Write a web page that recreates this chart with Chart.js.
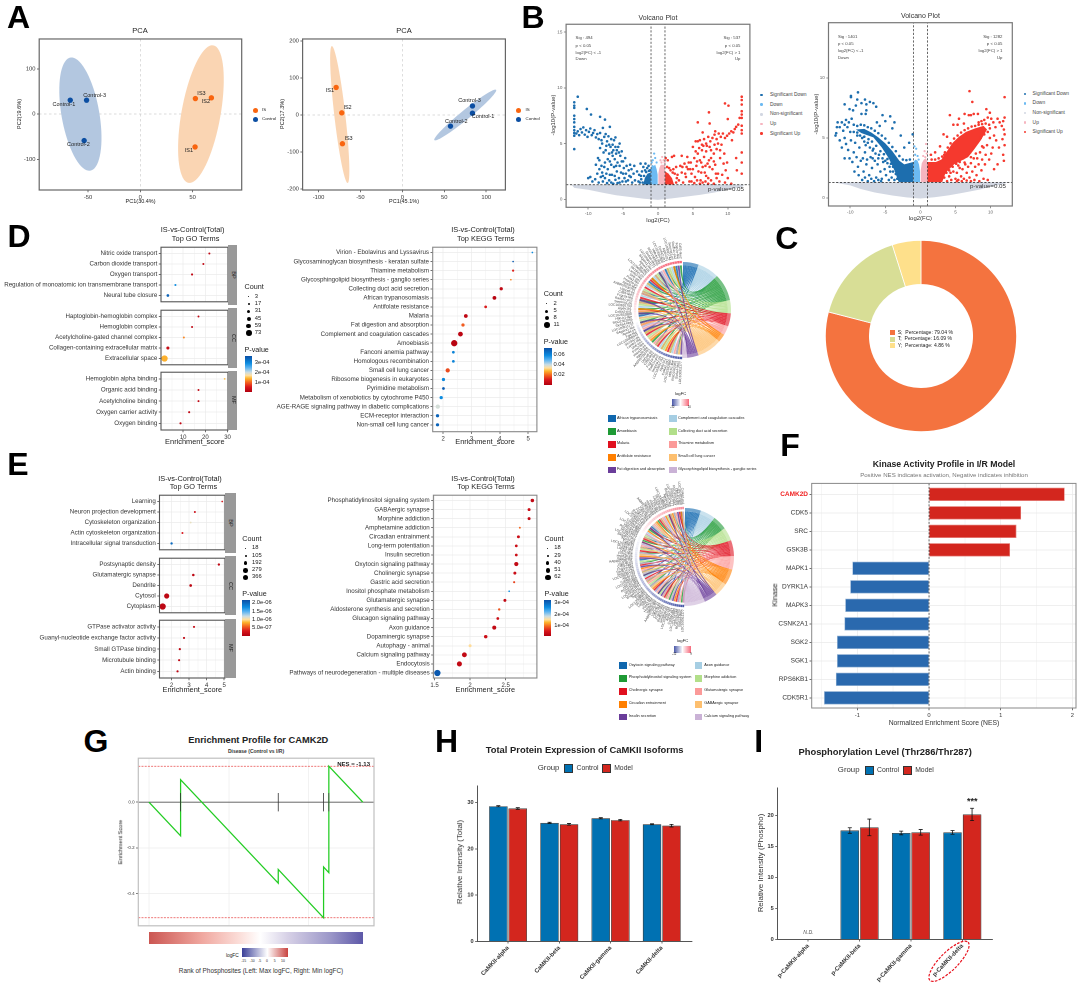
<!DOCTYPE html>
<html>
<head>
<meta charset="utf-8">
<script src="https://cdn.jsdelivr.net/npm/chart.js@4/dist/chart.umd.min.js"></script>
<style>
html,body{margin:0;padding:0;background:#fff}
#page{position:absolute;left:0;top:0;width:1080px;height:987px;overflow:hidden;background:#fff;font-family:"Liberation Sans",Arial,sans-serif}
#page canvas{position:absolute}
.t{position:absolute;white-space:pre;line-height:1;color:#222}
.b{position:absolute}
</style>
</head>
<body>
<div id="page"></div>
<script>
// ---- PCA
const pcaSamples = ['IS1', 'IS2', 'IS3', 'Control-1', 'Control-2', 'Control-3'];
const pca1X = [52.4, 68, 52.7, -67, -53.7, -51.4];
const pca1Y = [-72.5, 36, 34.4, 30.8, -58.6, 30.8];
const pca2X = [-79, -72.3, -71.5, 83.6, 57.4, 83.6];
const pca2Y = [74, 5.4, -78, 4.5, -30.5, 24];
// centre, then two conjugate half axes, in data units
const pca1Ellipses = [[58, 0, 11.8, 152, 18.4, -7.3], [-57.3, 0, -7.6, 125, 18.7, -6]];
const pca2Ellipses = [[-74.7, 0.9, -9.3, 185, 6.7, -1.6], [75, -0.4, 36.8, 68, 3.6, -9.5]];

// ---- Volcano 1
const v1Grey = [[-12.4,1.3],[-12,1.02],[-10,.85],[-8,.6],[-6,.36],[-4,.2],[-2,.05],[0,-.05],[2,.08],[4,.24],[6,.4],[8,.6],[10,.86],[12,1.08],[12.4,1.3]];
const v1LightDown = [[-1,1.32],[-1,2.9],[-.8,3.1],[-.6,3],[-.4,3.1],[-.2,2.7],[-.05,2.2],[-.05,1.32]];
const v1LightUp = [[.05,1.32],[.05,2.3],[.2,2.8],[.4,3.1],[.7,3.1],[1,3.1],[1,1.32]];
const v1DenseDown = [[-2.1,1.32],[-1.9,1.9],[-1.5,2.3],[-1.02,2.4],[-1.02,1.32]];
const v1DenseUp = [[1.02,1.32],[1.02,2.5],[1.5,2.3],[2,1.9],[2.3,1.32]];
const v1LightPts = [[-.55,4.1],[-.4,3.7],[-.75,3.5],[-.2,3.3],[-.9,3.3]];
const v1PinkPts = [[.6,3.8],[.8,3.5],[.35,3.5],[.95,3.3],[.5,3.3]];
const v1Down = [[-12,4.5],[-12,5.7],[-12,5.95],[-12,6.2],[-12,6.5],[-12,6.9],[-12,7.2],[-12,7.5],[-12,8.2],[-12,8.4],[-12,8.7],[-11.5,9.2],[-10.2,8.1],[-9.6,7.6],[-8.3,7.4],[-7.6,7.15],
[-11.7,5.9],[-11.5,6.1],[-11.3,5.75],[-11.1,6.3],[-10.9,6],[-10.7,6.45],[-10.5,5.8],[-10.3,6.2],[-10.1,5.6],[-9.9,6.05],[-9.7,6.35],[-9.5,5.75],[-9.3,5.95],[-9.1,6.2],[-8.9,5.55],[-8.7,5.85],[-8.5,5.4],[-8.3,5.95],[-8.1,5.3],[-7.9,6.4],[-7.7,5.6],[-7.5,5.85],[-7.3,5.2],[-7.1,5.65],[-6.9,6.5],[-6.7,5.4],[-6.5,4.9],[-6.3,5.3],[-6.1,5.55],[-5.9,4.4],
[-8.9,3.1],[-8.6,3.7],[-8.3,4.6],[-8,2.4],[-7.8,4.2],[-7.6,3.3],[-7.4,4.8],[-7.2,2.7],[-7,4.1],[-6.9,3.4],[-6.8,4.7],[-6.6,2.2],[-6.5,3.9],[-6.4,4.4],[-6.3,2.9],[-6.2,3.6],[-6,4.1],[-5.9,2.5],[-5.8,3.3],[-5.7,4.7],[-5.6,1.9],[-5.5,3],[-5.4,3.9],[-5.3,2.4],[-5.2,4.3],[-5.1,1.6],[-5,3.4],[-4.9,2.8],[-4.8,1.9],[-4.7,3.7],[-4.6,2.3],[-4.5,3],[-4.3,1.7],[-4.2,2.6],[-4,3.1],[-3.9,2],[-3.7,1.5],[-3.5,2.3],[-3.3,1.7],[-3,2.5],[-2.8,1.6],
[-10,1.9],[-9.7,2],[-9.4,1.6],[-9,1.8],[-8.7,2.3],[-8.5,1.5],[-8.2,2],[-7.9,1.6],[-7.6,1.9],[-7.3,1.45],[-7,1.7],[-6.7,1.5],[-6.4,1.4],[-6.1,1.75],[-5.8,1.45],[-5.5,1.5],[-7.7,2.9],[-8.4,2.7],[-6.9,2.2],[-6.2,2.1],
[-7.5,4.4],[-7,4.9],[-6.6,4.2],[-6.1,4.7],[-5.6,4.2],[-5.5,5],[-8,5],[-8.4,3.5],[-7.2,3.6],[-6.7,3.1],[-6,3],[-5.2,3.4],[-5,2.3],[-4.6,1.6],[-4.1,2.1],[-7.4,2.3],[-7.9,2.1],[-8.1,3],[-3.4,3],[-3.8,2.7],
[-2.7,2.2],[-2.5,3.2],[-2.4,1.8],[-2.3,2.5],[-2.2,1.5],[-2.1,2.9],[-2,2.1],[-1.85,2.6],[-1.8,3.2],[-1.55,2.8],[-1.35,3],[-1.15,2.6],[-2.6,1.5],[-2.45,2.1],[-1.3,2.55],[-1.7,2.45]];
const v1Up = [[12,9.2],[12,8.9],[12,8.5],[12,7.9],[12,7.6],[12,7.3],[12,6.6],[12,6.2],[12,5.9],[12,4.2],[12,3.3],[12,2.3],[10.1,8.4],[9.6,8.6],[11.7,7.3],[10,7.2],[11.5,6.7],[11.2,6.5],[7.3,7.8],[7.4,6.8],[5.7,6.9],[6.4,6],[8.2,6.1],
[11,6.3],[10.8,6],[10.5,6.1],[10.2,5.9],[9.9,5.7],[9.6,5.5],[9.3,5.9],[9,5.6],[8.7,5.9],[8.4,5.4],[8.1,5.8],[7.8,5.5],[7.5,5.2],[7.2,5.6],[6.9,5],[6.6,5.4],[6.3,4.9],[6,5.3],[5.7,5.2],[5.4,5.2],
[10.6,5.3],[9.9,3.3],[9.5,4.1],[9.1,4.9],[8.9,3.7],[8.6,2.3],[8.4,4.5],[8.2,3.1],[8,4.1],[7.8,2.7],[7.6,3.7],[7.4,4.7],[7.2,1.9],[7.1,3.2],[6.9,4.3],[6.7,2.4],[6.6,3.8],[6.4,2.9],[6.3,4.4],[6.1,1.7],[6,3.5],[5.8,2.5],[5.7,4.1],[5.5,3],[5.3,2],[5.2,3.7],[5,4.7],[4.8,2.3],[4.7,3.3],[4.5,1.6],[4.3,2.7],[4.2,3.8],[4,2],[3.8,3.2],[3.6,1.5],[3.4,2.4],[3.2,3],[3,1.7],[2.8,2.2],[2.6,1.5],[11.3,2.6],[11.2,3.7],[8.9,4.4],[8,3.4],[7,4.8],[6.2,3.3],[5.9,4.6],
[10.5,1.4],[10,1.9],[9.6,1.5],[9.2,2.2],[8.8,1.6],[8.4,1.9],[8,1.4],[7.6,1.7],[7.2,1.4],[6.8,1.6],[6.4,1.5],[6,1.4],[5.6,1.7],[5.2,1.45],[4.8,1.6],
[8.6,5],[8.1,4.9],[7.6,4.4],[7.3,3.5],[6.8,3],[6.5,4.8],[6.2,2.4],[5.6,3.4],[5.4,4.3],[5,2.7],[4.6,2.7],[4.4,3.3],[4.1,2.9],[3.9,2.3],[3.5,2.9],[9.4,3.2],[9.7,2.6],[8.3,2.3],[7.4,2.9],[6.9,2.1],
[1.1,3.7],[1.4,3.5],[1.6,2.8],[2.3,3.9],[2,3.8],[2.6,2.9],[3.4,3.9],[2.2,2.7],[1.3,2.9],[1.8,2.6],[2.4,2.3],[2.7,1.9],[2.1,2.4]];

// ---- Volcano 2
const v2Grey = [[-12.4,1.3],[-10,1.05],[-8.5,.75],[-6.5,.45],[-4,.2],[-2,.05],[0,-.05],[2,.06],[4,.22],[6,.42],[8.5,.7],[10,.95],[12,1.18],[12.4,1.3]];
const v2LightDown = [[-1,1.32],[-1,3],[-.7,3.2],[-.4,3.1],[-.2,2.8],[-.05,2.2],[-.05,1.32]];
const v2LightUp = [[.05,1.32],[.05,2.3],[.2,2.9],[.5,3.2],[.8,3.3],[1,3],[1,1.32]];
const v2DenseDown = [[-9.2,5.7],[-8,5.75],[-7,5.45],[-6,5.05],[-5,4.55],[-4,3.9],[-3,3.1],[-2.3,2.8],[-1.02,3],[-1.02,1.32],[-3.1,1.32],[-3.7,2.3],[-4.5,3.3],[-5.5,4.2],[-6.7,5.05],[-8.4,5.4]];
const v2DenseUp = [[1.02,3],[2.2,3],[3,3.2],[3.8,3.9],[4.6,4.6],[5.5,5.1],[6.5,5.5],[7.8,5.8],[9,6],[9.5,5.7],[8.6,4.8],[7.6,4],[6.8,3.4],[5.8,3.1],[4.8,2.8],[3.6,2.1],[3.1,1.32],[1.02,1.32]];
const v2LightPts = [[-.75,3.6],[-.6,4.1],[-.4,3.5],[-.85,4.3],[-.25,3.2]];
const v2PinkPts = [[.6,3.9],[.8,4.5],[.4,3.5],[.7,3.4],[.9,3.7]];
const v2Down = [[-12,5.4],[-12.1,5.2],[-11.9,5.9],[-11.8,6.3],[-11.5,5.9],[-11.2,6.3],[-11,5.6],[-10.8,6.1],[-10.6,6.5],[-10.4,5.9],[-10.2,6.3],[-10,5.5],[-9.8,6.6],[-9.6,7.3],[-9.2,7.7],[-10.8,7.8],[-10.1,7.4],[-9.9,8.4],[-9.9,8.5],[-9,8.2],[-8.9,8.8],[-8.4,7.9],[-7.9,8.2],[-7.7,7.8],[-7.2,8],[-6.7,7.9],[-6.3,7.6],[-7.7,7.3],[-8.4,7],[-7.8,7],[-5.4,6.9],[-4.3,6.8],[-3.7,6.3],[-6.2,6.3],[-5.8,6],[-5,6.4],[-4,5.8],[-2.8,5.2],[-2.3,4.2],[-1.6,4.6],[-1.1,5.3],
[-11.5,4.8],[-11.2,4.2],[-10.8,5],[-10.6,4.5],[-10.3,4],[-10.1,3.3],[-9.9,4.8],[-9.7,3],[-9.5,3.8],[-9.3,4.6],[-9.1,3.4],[-8.9,2.6],[-8.7,4.2],[-8.5,3.1],[-8.3,5],[-8.1,2.2],[-7.9,3.8],[-7.7,2.8],[-7.5,4.6],[-7.3,1.9],[-7.1,3.4],[-6.9,2.5],[-6.7,4.1],[-6.5,3.1],[-6.3,1.7],[-6.1,2.8],[-5.9,3.6],[-5.7,2.2],[-5.5,1.6],[-5.3,3],[-5.1,2.4],[-4.9,1.9],[-4.7,2.9],[-4.5,1.5],[-4.3,2.2],[-4.1,1.7],[-3.9,2.6],[-3.7,1.5],[-8.8,1.9],[-8.3,1.5],[-7.9,1.7],[-7.5,1.4],[-7,1.6],[-6.6,1.4],[-6,1.5],[-5.6,1.4],[-10.8,3.3],[-9,5.2],[-8,4.7],[-7.2,4.2],[-6.4,3.7],[-5.4,3.3],[-7.6,3.2],[-6.8,3.3],[-8.2,3.3],[-9.4,2.2],
[-9.5,6.1],[-9,6],[-8.5,6.1],[-8,6.05],[-7.5,5.9],[-7,5.8],[-6.5,5.6],[-6,5.4],[-5.5,5.2],[-5,4.95],[-4.5,4.6],[-4,4.25],[-3.5,3.9],[-3,3.5],[-2.5,3.2],[-2,3.15],[-1.5,3.2],[-9.5,5.5],[-9,5.45],[-8.6,5.2],[-8,5.1],[-7.4,4.9],[-6.9,4.7],[-6.3,4.35],[-5.7,3.9],[-5.2,3.65],[-4.7,3.25],[-4.2,2.85],[-3.9,2.2],[-3.5,2],[-3.3,1.6],[-7.8,4.4],[-6.8,3.95],[-6,3.3],[-5,3.1],[-4.4,2.6]];
const v2Up = [[7,8.9],[7.4,8],[12,8.4],[9.4,7.4],[9.9,7.1],[8.2,7],[7.6,7],[7.2,6.9],[6.9,6.9],[6.3,7],[5.5,6.6],[4.2,6.9],[6.2,6.2],[5.3,6.1],[4.7,6.1],[3.8,5.1],[3.3,5.3],[2.8,4.3],[2.1,3.8],[1.5,3.6],
[12,6.7],[11.8,6.4],[11.6,6],[11.9,5.7],[12,5.3],[11.7,4.9],[11.3,6.3],[11,6.6],[10.7,5.9],[10.4,6.3],[10.1,6.6],[9.9,5.8],[9.6,6.7],[9.1,6.5],[8.7,6.4],[8.3,6.3],[12,4.4],[11.8,3.6],[11.9,3.1],[11.2,4.2],[10.8,4.8],[10.5,5.2],[10.3,4.2],[10.1,3.7],[9.9,5],[9.8,3.2],[9.5,4.4],[9.3,3.6],[9.2,2.8],[9,4.2],[8.8,3.2],[8.7,2.3],[8.5,3.8],[8.3,2.8],[8.1,3.3],[8,1.9],[7.8,2.6],[7.6,3.3],[7.4,2.2],[7.2,2.9],[7,1.7],[6.8,2.6],[6.6,2.1],[6.4,2.8],[6.2,1.6],[6,2.4],[5.8,1.8],[5.6,2.5],[5.4,1.5],[5.2,2.1],[5,1.6],[4.7,2.2],[4.4,1.5],[4.1,1.8],[3.8,1.4],[9.6,1.5],[9,1.6],[8.4,1.4],[7.7,1.5],[7.2,1.4],[6.6,1.45],[5.9,1.4],[5.2,1.4],[4.6,4.2],[3.9,3.7],[3.4,3.6],[11,2.8],[10.5,2.4],
[9.8,6.1],[9.3,6.2],[8.8,6.15],[8.3,6.1],[7.8,6],[7.3,5.95],[6.8,5.8],[6.3,5.65],[5.8,5.45],[5.3,5.2],[4.8,4.95],[4.3,4.55],[3.9,4.2],[3.5,3.8],[3.1,3.45],[2.6,3.3],[2.1,3.2],[1.6,3.2],[9.6,5.5],[9.1,5.3],[8.6,5],[8.1,4.6],[7.6,4.2],[7.1,3.8],[6.6,3.5],[6.1,3.3],[5.6,3],[5.1,2.85],[4.6,2.6],[4.1,2.3],[3.7,2.1],[3.4,1.7],[8.8,4.3],[7.9,3.7],[7.2,3.4],[6.3,2.95],[5.4,2.7],[4.3,2.1]];

// ---- Donut
const motifNames = ['S', 'T', 'Y'];
const motifPercent = [79.04, 16.09, 4.86];

// ---- Dot plots, D panel
const goDBP = ['Nitric oxide transport', 'Carbon dioxide transport', 'Oxygen transport', 'Regulation of monoatomic ion transmembrane transport', 'Neural tube closure'];
const goDBPx = [21.8, 19.1, 14, 6.5, 3.1];
const goDBPn = [8, 8, 10, 9, 18];
const goDBPp = [.2e-4, .2e-4, .2e-4, 3e-4, 3.5e-4];
const goDCC = ['Haptoglobin-hemoglobin complex', 'Hemoglobin complex', 'Acetylcholine-gated channel complex', 'Collagen-containing extracellular matrix', 'Extracellular space'];
const goDCCx = [16.9, 14, 10.3, 3.1, 1.6];
const goDCCn = [7, 8, 8, 24, 73];
const goDCCp = [.2e-4, .2e-4, 1.2e-4, .3e-4, 1.4e-4];
const goDMF = ['Hemoglobin alpha binding', 'Organic acid binding', 'Acetylcholine binding', 'Oxygen carrier activity', 'Oxygen binding'];
const goDMFx = [28.7, 16.9, 16.9, 12.7, 8.8];
const goDMFn = [4, 7, 7, 9, 10];
const goDMFp = [1.5e-4, .2e-4, .2e-4, .2e-4, .2e-4];
const keggDTerms = ['Virion - Ebolavirus and Lyssavirus', 'Glycosaminoglycan biosynthesis - keratan sulfate', 'Thiamine metabolism', 'Glycosphingolipid biosynthesis - ganglio series', 'Collecting duct acid secretion', 'African trypanosomiasis', 'Antifolate resistance', 'Malaria', 'Fat digestion and absorption', 'Complement and coagulation cascades', 'Amoebiasis', 'Fanconi anemia pathway', 'Homologous recombination', 'Small cell lung cancer', 'Ribosome biogenesis in eukaryotes', 'Pyrimidine metabolism', 'Metabolism of xenobiotics by cytochrome P450', 'AGE-RAGE signaling pathway in diabetic complications', 'ECM-receptor interaction', 'Non-small cell lung cancer'];
const keggDx = [5.15, 4.47, 4.47, 4.39, 4.05, 3.81, 3.5, 2.8, 2.7, 2.61, 2.39, 2.36, 2.36, 2.16, 2.01, 2.01, 1.93, 1.81, 1.8, 1.8];
const keggDn = [2, 2, 3, 2, 5, 6, 4, 6, 5, 8, 11, 4, 4, 7, 5, 4, 5, 7, 5, 5];
const keggDp = [.06, .072, .012, .024, .004, .002, .011, .004, .019, .003, .002, .062, .062, .017, .061, .072, .06, .04, .07, .07];

// ---- Dot plots, E panel
const goEBP = ['Learning', 'Neuron projection development', 'Cytoskeleton organization', 'Actin cytoskeleton organization', 'Intracellular signal transduction'];
const goEBPx = [4.89, 3.33, 3.09, 2.62, 2];
const goEBPn = [18, 40, 30, 40, 70];
const goEBPp = [3e-7, 2e-7, 1.1e-6, 3e-7, 2e-6];
const goECC = ['Postsynaptic density', 'Glutamatergic synapse', 'Dendrite', 'Cytosol', 'Cytoplasm'];
const goECCx = [4.7, 3.24, 3.09, 1.72, 1.49];
const goECCn = [70, 80, 90, 279, 366];
const goECCp = [1e-7, 1e-7, 1e-7, 1e-7, 1e-7];
const goEMF = ['GTPase activator activity', 'Guanyl-nucleotide exchange factor activity', 'Small GTPase binding', 'Microtubule binding', 'Actin binding'];
const goEMFx = [3.28, 2.71, 2.47, 2.43, 2.34];
const goEMFn = [50, 50, 55, 50, 55];
const goEMFp = [1.5e-7, 1e-7, 1e-7, 1e-7, 1e-7];
const keggETerms = ['Phosphatidylinositol signaling system', 'GABAergic synapse', 'Morphine addiction', 'Amphetamine addiction', 'Circadian entrainment', 'Long-term potentiation', 'Insulin secretion', 'Oxytocin signaling pathway', 'Cholinergic synapse', 'Gastric acid secretion', 'Inositol phosphate metabolism', 'Glutamatergic synapse', 'Aldosterone synthesis and secretion', 'Glucagon signaling pathway', 'Axon guidance', 'Dopaminergic synapse', 'Autophagy - animal', 'Calcium signaling pathway', 'Endocytosis', 'Pathways of neurodegeneration - multiple diseases'];
const keggEx = [2.876, 2.83, 2.83, 2.7, 2.68, 2.65, 2.65, 2.65, 2.63, 2.62, 2.55, 2.49, 2.41, 2.39, 2.34, 2.22, 2, 1.92, 1.85, 1.54];
const keggEn = [35, 30, 30, 20, 30, 28, 28, 42, 30, 22, 18, 30, 25, 28, 40, 35, 30, 48, 50, 62];
const keggEp = [2e-5, 3e-5, 2e-5, 9e-5, 3e-5, 3e-5, 3e-5, 2e-5, 3e-5, 7e-5, 2.6e-4, 2e-5, 8e-5, 3e-5, 2e-5, 3e-5, 1.5e-4, 2e-5, 2e-5, 3.2e-4];

// ---- Chord diagrams. Gene names are unreadable in the source, these stand in for them.
const geneNames = ['LOC100911177', 'Slc6a4-like1', 'RGD1562055', 'Hbb-b1-like', 'LOC102552880', 'Col4a2-ps1', 'Atp6v1b1', 'LOC103691744', 'Serpina1-ps', 'Rad51c-ps2', 'Fcgr2a-like', 'Cd55-like2', 'Ugt1a6-ps', 'AABR07030791', 'Itga2b-like', 'Hspa1b-ps', 'Pola2-like', 'Dhfr-ps1', 'Lamb3-like', 'Slc19a1-ps', 'LOC120098643', 'Fga-like', 'Apoa4-ps', 'B4galnt1-like'];
const chordDTerms = ['African trypanosomiasis', 'Complement and coagulation cascades', 'Amoebiasis', 'Collecting duct acid secretion', 'Malaria', 'Thiamine metabolism', 'Antifolate resistance', 'Small cell lung cancer', 'Fat digestion and absorption', 'Glycosphingolipid biosynthesis - ganglio series'];
const chordDEnds = [19, 45, 78, 94, 110, 121, 131, 161, 175, 181];
const chordDLinks = [[57,52,47,43,38,33,27,20,12], [58,55,50,46,41,36,31,26,22,16,10,4], [59,56,53,49,45,42,37,34,30,28,24,19,14,9,5,2], [54,48,39,32,25,17,8,1], [44,40,35,29,23,18,11,6], [51,37,21,13,3], [56,45,30,15,7], [53,47,42,38,33,29,26,23,19,16,12,9,5,1], [58,49,34,28,24,20,0], [50,22,2]];
const chordDLogFC = [-10,-9.5,-9,-9,-8.5,-8,-8,-7.5,-7,-7,-6.5,-6,-6,-5.5,-5,-5,-4.5,-4,-3.5,-3,-2.5,-2,-1.5,-1,-.5,0,.5,1,1,1.5,2,2,2.5,3,3,3.5,4,4,4.5,5,5,5.5,6,6,6.5,7,7,7.5,7.5,8,8,8.5,8.5,9,9,9,9.5,9.5,10,10];
const chordETerms = ['Oxytocin signaling pathway', 'Axon guidance', 'Phosphatidylinositol signaling system', 'Morphine addiction', 'Cholinergic synapse', 'Glutamatergic synapse', 'Circadian entrainment', 'GABAergic synapse', 'Insulin secretion', 'Calcium signaling pathway'];
const chordEEnds = [19, 37, 54, 70, 89, 105, 124, 140, 156, 181];
const chordELinks = [[76,70,64,57,50,44,37,30,24,17,10,3], [74,66,60,53,46,40,33,27,20,13,6], [72,62,55,48,41,35,28,21,15,8,1], [77,68,58,51,43,36,29,22,14,7], [75,69,63,56,49,42,34,26,18,11,4,0], [73,65,59,52,45,38,31,23,16,9,2], [71,67,61,54,47,39,32,25,19,12,5,76], [70,60,50,40,30,20,10,64,44,24], [74,56,38,28,15,6,69,47,33,13], [77,72,66,58,52,46,41,35,29,25,21,17,12,7,3,0]];
const chordELogFC = [-12,-12,-11,-11,-11,-10,-10,-10,-9,-9,-9,-8,-8,-8,-7,-7,-7,-7,-6,-6,-6,-6,-5,-5,-5,-5,-4.5,-4.5,-4,-4,-4,-3.5,-3.5,-3,-3,-3,-2.5,-2.5,-2,-2,-2,-1.5,-1.5,-1.5,-1,-1,-1,-.5,-.5,-.5,-.2,0,.5,1,1.5,2,2,2.5,3,3,3.5,4,4,4.5,5,5,5.5,6,6,6.5,7,7,7.5,8,8,8.5,9,9];

// ---- Kinase bars
const kinases = ['CAMK2D', 'CDK5', 'SRC', 'GSK3B', 'MAPK1', 'DYRK1A', 'MAPK3', 'CSNK2A1', 'SGK2', 'SGK1', 'RPS6KB1', 'CDK5R1'];
const kinaseNES = [1.893, 1.284, 1.219, 1.13, -1.07, -1.1, -1.17, -1.18, -1.284, -1.284, -1.3, -1.465];

// ---- Enrichment profile
const gseaRank = [0, 19.8, 19.8, 81, 81, 109.4, 109.4, 112.7, 112.7, 134];
const gseaES = [0, -.147, .098, -.354, -.294, -.505, -.283, -.308, .157, 0];
const gseaHits = [19.8, 81, 109.4, 112.7];
const gseaMax = .157;
const gseaMin = -.505;
const gseaXTicks = [0, 50, 100];
const gseaYTicks = [0, -.2, -.4];

// ---- CaMKII bars
const totalIsoforms = ['CaMKII-alpha', 'CaMKII-beta', 'CaMKII-gamma', 'CaMKII-delta'];
const totalControl = [29.2, 25.6, 26.6, 25.3];
const totalModel = [28.7, 25.3, 26.2, 25];
const totalControlErr = [.12, .12, .12, .1];
const totalModelErr = [.18, .18, .16, .28];
const phosphoIsoforms = ['p-CaMKII-alpha', 'p-CaMKII-beta', 'p-CaMKII-gamma', 'p-CaMKII-delta'];
const phosphoControl = [null, 17.6, 17.2, 17.3];
const phosphoModel = [null, 18.1, 17.3, 20.2];
const phosphoControlErr = [0, .45, .3, .3];
const phosphoModelErr = [0, 1.35, .45, 1];

// ---- palette
const PALETTE = ['#0F67AE', '#A6CEE3', '#1E9A35', '#B2DF8A', '#E0101F', '#FB9A99', '#FF7F00', '#FDBF6F', '#6A3D9A', '#CAB2D6'];
const PVAL_STOPS = [[0,'#B0000F'],[.14,'#D9161C'],[.27,'#F4651F'],[.38,'#FDB52E'],[.46,'#FFDFA0'],[.55,'#C9DCE4'],[.68,'#59B2F0'],[.8,'#0C8CE0'],[1,'#0A4FA6']];
const BLUE = '#0071B2', RED = '#D3261E';

Chart.defaults.animation = false;
Chart.defaults.font.family = '"Liberation Sans", Arial, sans-serif';
Chart.defaults.plugins.legend.display = false;
Chart.defaults.plugins.tooltip.enabled = false;

const page = document.getElementById('page');

function txt(s, x, y, size, o = {}) {
    const e = document.createElement('div');
    e.className = 't';
    e.textContent = s;
    const tx = o.a === 'l' ? '0' : o.a === 'r' ? '-100%' : '-50%';
    e.style.cssText = `left:${x}px;top:${y}px;font-size:${size}px;transform:translate(${tx},-50%) rotate(${o.rot || 0}deg);` +
        `color:${o.c || '#222'};font-weight:${o.b ? 'bold' : 'normal'};font-style:${o.i ? 'italic' : 'normal'}`;
    page.appendChild(e);
}
function box(x0, y0, x1, y1, bg, border) {
    const e = document.createElement('div');
    e.className = 'b';
    e.style.cssText = `left:${x0}px;top:${y0}px;width:${x1 - x0}px;height:${y1 - y0}px;background:${bg};box-sizing:border-box;` + (border ? `border:0.7px solid ${border}` : '');
    page.appendChild(e);
}
function dot(x, y, r, c) {
    const e = document.createElement('div');
    e.className = 'b';
    e.style.cssText = `left:${x - r}px;top:${y - r}px;width:${2 * r}px;height:${2 * r}px;border-radius:50%;background:${c}`;
    page.appendChild(e);
}

function hexRgb(h) { return [1, 3, 5].map(i => parseInt(h.substr(i, 2), 16)); }
function pColor(p, pMax) {
    const t = Math.min(1, p / pMax);
    for (let i = 1; i < PVAL_STOPS.length; i++) {
        if (t <= PVAL_STOPS[i][0]) {
            const [a, ca] = PVAL_STOPS[i - 1], [b, cb] = PVAL_STOPS[i];
            const f = (t - a) / (b - a), A = hexRgb(ca), B = hexRgb(cb);
            return `rgb(${A.map((v, k) => Math.round(v + (B[k] - v) * f)).join(',')})`;
        }
    }
    return PVAL_STOPS[PVAL_STOPS.length - 1][1];
}
const pGradient = 'linear-gradient(to top,' + PVAL_STOPS.map(s => `${s[1]} ${s[0] * 100}%`).join(',') + ')';

// linear axis with ticks taken from a list
function axis(min, max, majors, o = {}) {
    const minors = o.minors || [];
    const isMajor = v => majors.includes(v);
    const gridCol = o.grid || 'transparent';
    return {
        type: 'linear', min, max, reverse: !!o.reverse, offset: false,
        afterBuildTicks: s => { s.ticks = majors.concat(minors).map(v => ({ value: v })); },
        grid: {
            offset: false,
            color: c => o.onlyZero ? (c.tick && c.tick.value === 0 ? o.onlyZero : 'transparent') : (c.tick && isMajor(c.tick.value) ? gridCol : (o.minorGrid || 'transparent')),
            lineWidth: o.gridW || .7,
            drawTicks: o.noTicks ? false : true,
            tickLength: 2.2, tickWidth: .7,
            tickColor: c => (c.tick && isMajor(c.tick.value)) ? (o.tickC || '#333') : 'transparent'
        },
        border: o.border || { display: false, dash: o.dash },
        ticks: {
            display: !o.hideLabels, autoSkip: false, includeBounds: false,
            maxRotation: o.rot || 0, minRotation: o.rot || 0, padding: o.pad === undefined ? 1.5 : o.pad,
            font: o.font || { size: o.size || 6 }, color: o.color || '#333',
            callback: v => {
                const i = majors.indexOf(v);
                if (i < 0) return '';
                return o.labels ? o.labels[i] : (o.fmt ? o.fmt(v) : String(v));
            }
        }
    };
}

const frame = (color, w) => ({
    id: 'frame',
    afterDraw(ch) {
        const a = ch.chartArea, c = ch.ctx;
        c.save(); c.strokeStyle = color; c.lineWidth = w;
        c.strokeRect(a.left, a.top, a.right - a.left, a.bottom - a.top);
        c.restore();
    }
});

// plot area is placed exactly on rect [x0,y0,x1,y1]
function plot(rect, m, type, datasets, x, y, plugins = [], extra = {}) {
    const left = Math.floor(rect[0] - m.l), top = Math.floor(rect[1] - m.t);
    const right = Math.ceil(rect[2] + m.r), bottom = Math.ceil(rect[3] + m.b);
    const c = document.createElement('canvas');
    c.width = right - left; c.height = bottom - top;
    c.style.left = left + 'px'; c.style.top = top + 'px';
    c.style.width = c.width + 'px'; c.style.height = c.height + 'px';
    page.appendChild(c);
    const ds = type === 'scatter' ? datasets.slice().reverse() : datasets;
    return new Chart(c, {
        type, data: { datasets: ds },
        plugins,
        options: Object.assign({
            responsive: false, devicePixelRatio: 2,
            layout: { padding: { left: 0, top: rect[1] - top, right: right - rect[2], bottom: 0 } },
            scales: {
                x: Object.assign({}, x, { afterFit: s => { s.height = bottom - rect[3]; } }),
                y: Object.assign({}, y, { afterFit: s => { s.width = rect[0] - left; } })
            }
        }, extra)
    });
}

const pts = a => a.map(p => ({ x: p[0], y: p[1] }));
const zipXY = (xs, ys) => xs.map((v, i) => ({ x: v, y: ys[i] }));
const poly = (a, color) => ({ data: pts(a), showLine: true, fill: 'shape', backgroundColor: color, borderWidth: 0, pointRadius: 0 });
const scat = (a, color, r) => ({ data: pts(a), pointRadius: r, pointBackgroundColor: color, pointBorderWidth: 0, showLine: false });
const seg = (a, color, w, dash) => ({ data: pts(a), showLine: true, fill: false, borderColor: color, borderWidth: w, borderDash: dash || [], pointRadius: 0 });

// ---------------- A: PCA
function ellipses(list, colors) {
    return {
        id: 'ellipses',
        beforeDatasetsDraw(ch) {
            const c = ch.ctx, X = ch.scales.x, Y = ch.scales.y;
            list.forEach((e, i) => {
                c.beginPath();
                for (let k = 0; k <= 72; k++) {
                    const t = k / 72 * 2 * Math.PI;
                    const px = X.getPixelForValue(e[0] + e[2] * Math.cos(t) + e[4] * Math.sin(t));
                    const py = Y.getPixelForValue(e[1] + e[3] * Math.cos(t) + e[5] * Math.sin(t));
                    k ? c.lineTo(px, py) : c.moveTo(px, py);
                }
                c.fillStyle = colors[i];
                c.fill();
            });
        }
    };
}
const pcaColors = ['#FAD5B3', '#B3C7E0'];
function pcaPlot(rect, xr, yr, xt, yt, xs, ys, ells) {
    const isIdx = [0, 1, 2], ctlIdx = [3, 4, 5];
    plot(rect, { l: 30, t: 4, r: 8, b: 11 }, 'scatter', [
        { data: isIdx.map(i => ({ x: xs[i], y: ys[i] })), pointRadius: 2.7, pointBackgroundColor: '#F9650F', pointBorderWidth: 0 },
        { data: ctlIdx.map(i => ({ x: xs[i], y: ys[i] })), pointRadius: 2.7, pointBackgroundColor: '#0B4EA2', pointBorderWidth: 0 }
    ],
        axis(xr[0], xr[1], xt, { onlyZero: '#CFCFCF', dash: [2.5, 2.5], size: 5.8 }),
        axis(yr[0], yr[1], yt, { onlyZero: '#CFCFCF', dash: [2.5, 2.5], size: 5.8 }),
        [ellipses(ells, pcaColors), frame('#666', 1.2)]);
}
pcaPlot([39.2, 38, 241.7, 190], [-96.7, 97], [-167.7, 166], [-50, 0, 50], [-100, 0, 100], pca1X, pca1Y, pca1Ellipses);
pcaPlot([302.6, 38, 505.4, 190], [-119, 122.9], [-203, 205], [-100, -50, 0, 50, 100], [-200, -100, 0, 100, 200], pca2X, pca2Y, pca2Ellipses);

txt('A', 18.6, 17, 32, { b: 1, c: '#000' });
txt('PCA', 140, 31, 7.5);
txt('PCA', 404, 31, 7.5);
txt('PC1(30.4%)', 140.6, 202, 5.5);
txt('PC1(45.1%)', 404, 202, 5.5);
txt('PC2(19.6%)', 19.6, 114, 5.5, { rot: -90 });
txt('PC2(17.3%)', 283.3, 114, 5.5, { rot: -90 });
[[189, 314], [232, 435], [280, 287]].forEach((p, i) => txt(pcaSamples[i + 3], p[0] / 2.958, p[1] / 3, 5.5));
[[559, 454], [609, 306], [596, 283]].forEach((p, i) => txt(pcaSamples[i], p[0] / 2.958, p[1] / 3, 5.5));
[[1429, 351], [1350, 366], [1389, 304]].forEach((p, i) => txt(pcaSamples[i + 3], p[0] / 2.958, p[1] / 3, 5.5));
[[976, 274], [1028, 325], [1031, 417]].forEach((p, i) => txt(pcaSamples[i], p[0] / 2.958, p[1] / 3, 5.5));
[255, 518.6].forEach(x => {
    dot(x, 110, 2.5, '#F9650F'); dot(x, 119, 2.5, '#0B4EA2');
    txt('IS', x + 7, 110, 4.4, { a: 'l' }); txt('Control', x + 7, 119, 4.4, { a: 'l' });
});

// ---------------- B: volcano
const VC = { down: '#1D6EAE', lightDown: '#6CBAF2', non: '#D2D7E2', lightUp: '#F6B5BF', up: '#F5392E' };
function volcano(rect, xr, yr, yt, set) {
    plot(rect, { l: 12, t: 4, r: 6, b: 14 }, 'scatter', [
        poly(set.grey, VC.non),
        poly(set.lightDown, VC.lightDown),
        poly(set.lightUp, VC.lightUp),
        scat(set.lightPts, VC.lightDown, 1.1),
        scat(set.pinkPts, VC.lightUp, 1.1),
        poly(set.denseDown, VC.down),
        poly(set.denseUp, VC.up),
        scat(set.down, VC.down, 1.3),
        scat(set.up, VC.up, 1.3),
        seg([[xr[0], 1.3], [xr[1], 1.3]], '#222', .8, [2.2, 1.6]),
        seg([[-1, yr[0]], [-1, yr[1]]], '#444', .8, [2.2, 1.6]),
        seg([[1, yr[0]], [1, yr[1]]], '#444', .8, [2.2, 1.6])
    ],
        axis(xr[0], xr[1], [-10, -5, 0, 5, 10], { size: 4.6, color: '#666', tickC: '#666' }),
        axis(yr[0], yr[1], yt, { size: 4.6, color: '#666', tickC: '#666' }),
        [frame('#777', 1.2)]);
}
volcano([566.1, 24, 749.9, 207.3], [-13.17, 13.17], [-.72, 15.7], [0, 5, 10, 15],
    { grey: v1Grey, lightDown: v1LightDown, lightUp: v1LightUp, lightPts: v1LightPts, pinkPts: v1PinkPts, denseDown: v1DenseDown, denseUp: v1DenseUp, down: v1Down, up: v1Up });
volcano([828.5, 22.7, 1012.3, 206], [-13.1, 13.1], [-.67, 14.6], [0, 5, 10],
    { grey: v2Grey, lightDown: v2LightDown, lightUp: v2LightUp, lightPts: v2LightPts, pinkPts: v2PinkPts, denseDown: v2DenseDown, denseUp: v2DenseUp, down: v2Down, up: v2Up });

txt('B', 533, 16.5, 32, { b: 1, c: '#000' });
const volcLegend = ['Significant Down', 'Down', 'Non-significant', 'Up', 'Significant Up'];
const volcColors = [VC.down, VC.lightDown, VC.non, VC.lightUp, VC.up];
volcLegend.forEach((s, i) => {
    dot(761.5, 95 + i * 9.67, 1.2, volcColors[i]); txt(s, 770, 95 + i * 9.67, 4.9, { a: 'l', c: '#444' });
    dot(1025, 93.7 + i * 9.65, 1.2, volcColors[i]); txt(s, 1032.6, 93.7 + i * 9.65, 4.9, { a: 'l', c: '#444' });
});
txt('Volcano Plot', 658, 16.7, 7, { c: '#333' });
txt('Volcano Plot', 920.4, 14.7, 7, { c: '#333' });
txt('log2(FC)', 658, 220, 6, { c: '#333' });
txt('log2(FC)', 920.4, 218, 6, { c: '#333' });
txt('-log10(P-value)', 553, 115, 6, { rot: -90, c: '#333' });
txt('-log10(P-value)', 816, 113.5, 6, { rot: -90, c: '#333' });
['Sig : 494', 'p < 0.05', 'log2(FC) < -1', 'Down'].forEach((s, i) => txt(s, 575.6, [38.3, 45.7, 52.7, 59.3][i], 4.3, { a: 'l', c: '#444' }));
['Sig : 537', 'p < 0.05', 'log2(FC) > 1', 'Up'].forEach((s, i) => txt(s, 740.5, [38.3, 45.7, 52.7, 59.3][i], 4.3, { a: 'r', c: '#444' }));
['Sig : 1401', 'p < 0.05', 'log2(FC) < -1', 'Down'].forEach((s, i) => txt(s, 838, [37, 44, 51, 58][i], 4.3, { a: 'l', c: '#444' }));
['Sig : 1282', 'p < 0.05', 'log2(FC) > 1', 'Up'].forEach((s, i) => txt(s, 1002.5, [37, 44, 51, 58][i], 4.3, { a: 'r', c: '#444' }));
txt('p-value=0.05', 744, 189, 6.2, { a: 'r', c: '#333' });
txt('p-value=0.05', 1006, 186.3, 6.2, { a: 'r', c: '#333' });

// ---------------- C: donut
(function () {
    const left = 825, top = 240, size = 192;
    const c = document.createElement('canvas');
    c.width = size; c.height = size;
    c.style.left = left + 'px'; c.style.top = top + 'px';
    c.style.width = size + 'px'; c.style.height = size + 'px';
    page.appendChild(c);
    new Chart(c, {
        type: 'doughnut',
        data: { labels: motifNames, datasets: [{ data: motifPercent, backgroundColor: ['#F4733F', '#D8DE96', '#FEE08B'], borderColor: '#fff', borderWidth: .8 }] },
        options: { responsive: false, devicePixelRatio: 2, cutout: '54%' }
    });
    txt('C', 786.7, 238, 32, { b: 1, c: '#000' });
    ['#F4733F', '#D8DE96', '#FEE08B'].forEach((col, i) => {
        box(890, 330.3 + i * 6.33, 895, 335.3 + i * 6.33, col);
        txt(`${motifNames[i]};  Percentage: ${motifPercent[i].toFixed(2)} %`, 897.7, 332.9 + i * 6.33, 5.1, { a: 'l' });
    });
})();

// ---------------- D, E: dot plots
function sizeOf(n, lo, hi) { return .85 + 2.3 * (n - lo) / (hi - lo); }
function dotPanel(rect, terms, xs, ns, ps, o) {
    const pads = o.pads || [.6, .6];
    const rows = terms.map((_, i) => i);
    plot(rect, { l: 160, t: 3, r: 6, b: o.showX ? 11 : 2 }, 'scatter', [{
        data: zipXY(xs, rows),
        pointRadius: ns.map(n => sizeOf(n, o.nRange[0], o.nRange[1])),
        pointBackgroundColor: ps.map(p => pColor(p, o.pMax)),
        pointBorderWidth: 0
    }],
        axis(o.xr[0], o.xr[1], o.xt, { grid: '#EBEBEB', minors: o.xm, minorGrid: '#F4F4F4', hideLabels: !o.showX, size: 6, noTicks: !o.showX, tickC: '#333' }),
        axis(-pads[0], terms.length - 1 + pads[1], rows, { reverse: true, labels: terms, grid: '#EBEBEB', size: 6.2, color: '#333' }),
        [frame(o.frame || '#555', 1.1)]);
}
function strip(x0, y0, x1, y1, s) {
    box(x0, y0, x1, y1, '#999');
    txt(s, (x0 + x1) / 2, (y0 + y1) / 2, 5.5, { rot: 90, c: '#222' });
}
function dotLegend(x, dotX, txtX, titleY, ys, labels, rs, pTitleY, bar, pLabels, pYs) {
    txt('Count', x, titleY, 7.2, { a: 'l' });
    labels.forEach((s, i) => { dot(dotX, ys[i], rs[i], '#000'); txt(s, txtX, ys[i], 5.8, { a: 'l' }); });
    txt('P-value', x, pTitleY, 7.2, { a: 'l' });
    box(bar[0], bar[1], bar[2], bar[3], pGradient);
    pLabels.forEach((s, i) => txt(s, txtX, pYs[i], 5.8, { a: 'l' }));
}
function headings(x1, x2, y1, y2, line2, ex, ey) {
    txt('IS-vs-Control(Total)', x1, y1, 7.4);
    txt(line2, x2, y2, 7.4);
    txt('Enrichment_score', ex, ey, 7.4);
}

const goDOpts = { xr: [0, 30.2], xt: [10, 20, 30], xm: [5, 15, 25], nRange: [3, 73], pMax: 3.75e-4 };
dotPanel([161, 245, 228, 305], goDBP, goDBPx, goDBPn, goDBPp, goDOpts);
dotPanel([161, 308.3, 228, 367.7], goDCC, goDCCx, goDCCn, goDCCp, goDOpts);
dotPanel([161, 370.7, 228, 430], goDMF, goDMFx, goDMFn, goDMFp, Object.assign({ showX: true }, goDOpts));
strip(228, 245, 237.4, 305, 'BP'); strip(228, 308.3, 237.4, 367.7, 'CC'); strip(228, 370.7, 237.4, 430, 'MF');
headings(192.6, 195.6, 230.3, 238.7, 'Top GO Terms', 194.9, 442.3);
dotLegend(244.5, 248.7, 254.7, 287.3, [296.7, 304, 311.3, 318.7, 326, 333.3], ['3', '17', '31', '45', '59', '73'], [.7, 1.2, 1.6, 2, 2.4, 2.9], 349.7, [244.5, 355.7, 252, 391.7], ['3e-04', '2e-04', '1e-04'], [363.3, 373, 382.7]);

dotPanel([432.7, 245, 536.9, 431.7], keggDTerms, keggDx, keggDn, keggDp,
    { showX: true, xr: [1.63, 5.31], xt: [2, 3, 4, 5], xm: [2.5, 3.5, 4.5], nRange: [2, 11], pMax: .075, pads: [.58, .76], frame: '#888' });
headings(483, 485.7, 230.3, 238.7, 'Top KEGG Terms', 485, 442.3);
dotLegend(543.7, 546.7, 553.4, 294.3, [303.7, 311, 318, 325.3], ['2', '5', '8', '11'], [.7, 1.5, 2.2, 2.9], 342, [544, 347.7, 551.5, 385], ['0.06', '0.04', '0.02'], [355.3, 365.3, 375.3]);
txt('D', 19, 236, 32, { b: 1, c: '#000' });

const goEOpts = { xr: [1.31, 5.05], xt: [2, 3, 4, 5], xm: [1.5, 2.5, 3.5, 4.5], nRange: [18, 366], pMax: 2.2e-6 };
dotPanel([159.5, 493.3, 225, 552.7], goEBP, goEBPx, goEBPn, goEBPp, goEOpts);
dotPanel([159.5, 556, 225, 615.3], goECC, goECCx, goECCn, goECCp, goEOpts);
dotPanel([159.5, 618.7, 225, 678], goEMF, goEMFx, goEMFn, goEMFp, Object.assign({ showX: true }, goEOpts));
strip(225, 493.3, 235.5, 552.7, 'BP'); strip(225, 556, 235.5, 615.3, 'CC'); strip(225, 618.7, 235.5, 678, 'MF');
headings(190, 193.4, 478.7, 487, 'Top GO Terms', 192.3, 690.3);
dotLegend(242.3, 245.7, 252, 539.3, [548.3, 555.7, 563, 570.3, 577.3], ['18', '105', '192', '279', '366'], [.7, 1.2, 1.7, 2.3, 2.8], 594, [242.3, 599.7, 249.8, 636], ['2.0e-06', '1.5e-06', '1.0e-06', '5.0e-07'], [603.3, 611.7, 620, 628.3]);

dotPanel([433.4, 493.3, 536.9, 678], keggETerms, keggEx, keggEn, keggEp,
    { showX: true, xr: [1.484, 2.94], xt: [1.5, 2, 2.5], xm: [1.75, 2.25, 2.75], nRange: [18, 62], pMax: 3.3e-4, pads: [.58, .55], frame: '#888' });
headings(483, 486, 478.7, 487, 'Top KEGG Terms', 485.3, 690.3);
dotLegend(544.4, 547.8, 554.2, 539, [548.3, 555.7, 563, 570.3, 577.3], ['18', '29', '40', '51', '62'], [.7, 1.2, 1.7, 2.3, 2.8], 594, [544.4, 599.7, 551.5, 636], ['3e-04', '2e-04', '1e-04'], [603.3, 615, 626.3]);
txt('E', 18, 464, 32, { b: 1, c: '#000' });

// ---------------- chord diagrams
function fcColor(v, top) {
    const t = Math.min(1, Math.abs(v) / top), base = v < 0 ? [74, 88, 168] : [246, 104, 122];
    return `rgb(${base.map(b => Math.round(255 + (b - 255) * t)).join(',')})`;
}
function chordPlugin(ends, links, logfc, fcTop) {
    return {
        id: 'chord',
        afterDatasetsDraw(ch) {
            const c = ch.ctx, X = ch.scales.x, Y = ch.scales.y;
            const cx = X.getPixelForValue(0), cy = Y.getPixelForValue(0);
            const R = X.getPixelForValue(1) - cx;
            const rad = a => (a - 90) * Math.PI / 180;
            const pt = (a, r) => [cx + r * R * Math.cos(rad(a)), cy + r * R * Math.sin(rad(a))];
            const n = logfc.length, step = 178 / n;
            const geneA = i => 181 + step * i;
            c.save();
            // ribbons
            c.globalAlpha = .82;
            links.forEach((list, s) => {
                const a0 = s ? ends[s - 1] : 0, a1 = ends[s], w = (a1 - a0) / list.length;
                list.forEach((g, k) => {
                    const b0 = geneA(g), b1 = b0 + step * .85, s0 = a0 + k * w, s1 = s0 + w, r = .93, bend = .3;
                    const p = pt(s0, r), q = pt(b0, r), p2 = pt(s1, bend), q2 = pt(b0, bend), p3 = pt(b1, bend), p4 = pt(s0, bend);
                    const endB = pt(b1, r);
                    c.beginPath();
                    c.moveTo(p[0], p[1]);
                    c.arc(cx, cy, r * R, rad(s0), rad(s1));
                    c.bezierCurveTo(p2[0], p2[1], q2[0], q2[1], q[0], q[1]);
                    c.arc(cx, cy, r * R, rad(b0), rad(b1));
                    c.lineTo(endB[0], endB[1]);
                    c.bezierCurveTo(p3[0], p3[1], p4[0], p4[1], p[0], p[1]);
                    c.closePath();
                    c.fillStyle = PALETTE[s];
                    c.fill();
                });
            });
            // term sectors
            ends.forEach((e, s) => {
                const a0 = s ? ends[s - 1] : 0;
                c.beginPath();
                c.arc(cx, cy, .965 * R, rad(a0), rad(e));
                c.lineWidth = .07 * R;
                c.strokeStyle = PALETTE[s];
                c.globalAlpha = .6;
                c.stroke();
            });
            c.globalAlpha = 1;
            // gene ring and names
            logfc.forEach((v, i) => {
                const a = geneA(i);
                c.beginPath();
                c.arc(cx, cy, 1.0 * R, rad(a), rad(a + step * .9));
                c.lineWidth = .05 * R;
                c.strokeStyle = fcColor(v, fcTop);
                c.stroke();
                const mid = a + step * .45, p = pt(mid, 1.07);
                c.save();
                c.translate(p[0], p[1]);
                c.rotate(rad(mid) + Math.PI);
                c.font = '3.3px "Liberation Sans"';
                c.fillStyle = '#444';
                c.textAlign = 'right';
                c.textBaseline = 'middle';
                c.fillText(geneNames[i % geneNames.length], 0, 0);
                c.restore();
            });
            c.restore();
        }
    };
}
function chord(cx, cy, R, ends, links, logfc, fcTop) {
    const half = 94, u = half / R;
    const hide = { type: 'linear', min: -u, max: u, display: false };
    const c = document.createElement('canvas');
    const left = Math.round(cx - half), top = Math.round(cy - half);
    c.width = c.height = 2 * half;
    c.style.left = left + 'px'; c.style.top = top + 'px';
    c.style.width = 2 * half + 'px'; c.style.height = 2 * half + 'px';
    page.appendChild(c);
    new Chart(c, {
        type: 'scatter', data: { datasets: [{ data: [] }] }, plugins: [chordPlugin(ends, links, logfc, fcTop)],
        options: { responsive: false, devicePixelRatio: 2, scales: { x: hide, y: hide } }
    });
}
chord(682.5, 309.7, 48, chordDEnds, chordDLinks, chordDLogFC, 10);
chord(685, 557, 49, chordEEnds, chordELinks, chordELogFC, 12);

function chordLegend(terms, x1, t1, x2, t2, ys, fx, fy, bar, lo, hi) {
    txt('logFC', fx, fy, 4.2);
    box(bar[0], bar[1], bar[2], bar[3], 'linear-gradient(to right,#4A58A8,#fff 50%,#F6687A)');
    txt(lo, bar[0], bar[3] + 1.5, 2.8, {}); txt(hi, bar[2], bar[3] + 1.5, 2.8, {});
    ys.forEach((y, i) => {
        const a = terms[i * 2], b = terms[i * 2 + 1];
        box(x1, y - 3.4, x1 + 7.4, y + 3.4, PALETTE[i * 2]);
        txt(a, t1, y, 3.8, { a: 'l' });
        box(x2, y - 3.4, x2 + 7.4, y + 3.4, PALETTE[i * 2 + 1]);
        txt(b, t2, y, 3.8, { a: 'l' });
    });
}
chordLegend(chordDTerms, 608.3, 617, 669.3, 678, [418.7, 431.7, 444.3, 457.3, 470], 680.7, 394.3, [672.3, 399, 689.3, 405.7], '-10', '10');
chordLegend(chordETerms, 619.3, 628.7, 695, 704.3, [665.7, 678.3, 691.3, 704.3, 717], 682.7, 641, [674.3, 645.7, 691, 652.7], '-12', '9');

// ---------------- F: kinase bars
const zeroDash = {
    id: 'zeroDash',
    afterDatasetsDraw(ch) {
        const c = ch.ctx, x = ch.scales.x.getPixelForValue(0), a = ch.chartArea;
        c.save(); c.setLineDash([2, 1.5]); c.strokeStyle = '#444'; c.lineWidth = .8;
        c.beginPath(); c.moveTo(x, a.top); c.lineTo(x, a.bottom); c.stroke(); c.restore();
    }
};
plot([811.7, 481.7, 1076, 708], { l: 45, t: 3, r: 3, b: 12 }, 'bar', [{
    data: kinases.map((k, i) => ({ x: kinaseNES[i], y: i })),
    backgroundColor: kinaseNES.map(v => v > 0 ? '#D3261E' : '#2A69AE'),
    borderColor: kinaseNES.map(v => v > 0 ? '#E88B85' : '#9DBAD8'),
    borderWidth: .6, categoryPercentage: .72, barPercentage: 1
}],
    axis(-1.637, 2.05, [-1, 0, 1, 2], { grid: '#EAEAEA', minors: [-1.5, -.5, .5, 1.5], minorGrid: '#F3F3F3', size: 5.8 }),
    (() => {
        const y = axis(-.59, 11.55, kinases.map((_, i) => i), { reverse: true, labels: kinases, grid: '#EAEAEA', size: 6.5, color: '#333' });
        y.ticks.color = c => c.tick && c.tick.value === 0 ? '#F02020' : '#333';
        y.ticks.font = c => c.tick && c.tick.value === 0 ? { size: 6.5, weight: 'bold' } : { size: 6.5 };
        return y;
    })(),
    [zeroDash, frame('#888', 1)], { indexAxis: 'y' });
txt('F', 790, 445, 32, { b: 1, c: '#000' });
txt('Kinase Activity Profile in I/R Model', 944, 464.3, 8.7, { b: 1 });
txt('Positive NES indicates activation, Negative indicates inhibition', 944, 474.7, 6.1, { c: '#777' });
txt('Normalized Enrichment Score (NES)', 944, 722.7, 6.8, { c: '#333' });
txt('Kinase', 775, 595, 7.6, { rot: -90 });

// ---------------- G: enrichment profile
plot([138.3, 757.7, 374, 926.7], { l: 18, t: 3, r: 3, b: 3 }, 'scatter', [
    seg([[-6.7, gseaMax], [141, gseaMax]], '#E84B4B', .8, [2, 1.2]),
    seg([[-6.7, gseaMin], [141, gseaMin]], '#E84B4B', .8, [2, 1.2]),
    seg([[-6.7, 0], [141, 0]], '#555', .9),
    { data: zipXY(gseaRank, gseaES), showLine: true, fill: false, tension: 0, borderColor: '#22CC22', borderWidth: 1.25, pointRadius: 0 },
    ...gseaHits.map(h => seg([[h, -.04], [h, .04]], '#333', .8))
],
    axis(-6.7, 141, gseaXTicks, { grid: '#EDEDED', hideLabels: true, noTicks: true }),
    axis(-.54, .192, gseaYTicks, { grid: '#EDEDED', size: 4.5, color: '#444', fmt: v => v.toFixed(1) }),
    [frame('#C0C0C0', 1.2)]);
txt('G', 96, 741.3, 32, { b: 1, c: '#000' });
txt('Enrichment Profile for CAMK2D', 258.3, 740.7, 9.3, { b: 1 });
txt('Disease (Control vs I/R)', 256, 751.3, 5, { b: 1, c: '#333' });
txt('NES = -1.13', 370, 763.7, 6, { a: 'r', b: 1 });
txt('Enrichment Score', 120.7, 842, 5.6, { rot: -90 });
box(149, 932, 363.3, 944.3, 'linear-gradient(to right,#CB5652,#F0A8A0 25%,#FBDDD8 42%,#FFFFFF 52%,#D6D0E6 65%,#9A96C8 85%,#5D58A8)');
txt('logFC', 232.3, 956.3, 4.8);
box(242.3, 948.3, 288, 956.7, 'linear-gradient(to right,#3A3F98,#FFFFFF 55%,#C8433F)');
['-15', '-10', '-5', '0', '5', '10'].forEach((s, i) => txt(s, [243.7, 252.3, 259.7, 267, 274.7, 283][i], 962, 3.4));
txt('Rank of Phosphosites (Left: Max logFC, Right: Min logFC)', 261, 970.7, 6.4, { c: '#333' });

// ---------------- H, I: CaMKII bars
function errBars(errs) {
    return {
        id: 'errBars',
        afterDatasetsDraw(ch) {
            const c = ch.ctx, Y = ch.scales.y;
            c.save(); c.strokeStyle = '#111'; c.lineWidth = .8;
            errs.forEach((list, d) => {
                ch.getDatasetMeta(d).data.forEach((bar, i) => {
                    if (!list[i]) return;
                    const v = ch.data.datasets[d].data[i].y;
                    const hi = Y.getPixelForValue(v + list[i]), lo = Y.getPixelForValue(v - list[i]);
                    c.beginPath();
                    c.moveTo(bar.x, hi); c.lineTo(bar.x, lo);
                    c.moveTo(bar.x - 2, hi); c.lineTo(bar.x + 2, hi);
                    c.moveTo(bar.x - 2, lo); c.lineTo(bar.x + 2, lo);
                    c.stroke();
                });
            });
            c.restore();
        }
    };
}
function groupBars(rect, names, ctl, mdl, errC, errM, yMax, yt) {
    const bar = (vals, col) => ({
        data: vals.map((v, i) => ({ x: i, y: v })), backgroundColor: col, borderColor: '#333', borderWidth: .7,
        categoryPercentage: .76, barPercentage: .95
    });
    const line = { display: true, color: '#555', width: 1 };
    const xAxis = axis(-.6, 3.59, [0, 1, 2, 3], { labels: names, rot: 47, border: line, font: { size: 6, weight: 'bold' }, color: '#333', pad: 1 });
    const yAxis = axis(0, yMax, yt, { border: line, font: { size: 5.6, weight: 'bold' }, color: '#333' });
    plot(rect, { l: 16, t: 3, r: 3, b: 45 }, 'bar', [bar(ctl, BLUE), bar(mdl, RED)], xAxis, yAxis, [errBars([errC, errM])]);
}
groupBars([477.3, 784.3, 692, 941.3], totalIsoforms, totalControl, totalModel, totalControlErr, totalModelErr, 33.6, [0, 10, 20, 30]);
groupBars([777.4, 786.7, 992.6, 939.3], phosphoIsoforms, phosphoControl, phosphoModel, phosphoControlErr, phosphoModelErr, 24.5, [0, 5, 10, 15, 20]);

function groupLegend(x, y, sw1, sw2) {
    txt('Group', x, y, 7.8, { c: '#333' });
    box(sw1, y - 4.5, sw1 + 9.2, y + 4.5, BLUE, '#333');
    txt('Control', sw1 + 12.6, y, 6.8, { a: 'l', c: '#333' });
    box(sw2, y - 4.5, sw2 + 9.2, y + 4.5, RED, '#333');
    txt('Model', sw2 + 12.6, y, 6.8, { a: 'l', c: '#333' });
}
txt('H', 446.6, 741.3, 32, { b: 1, c: '#000' });
txt('Total Protein Expression of CaMKII Isoforms', 584.6, 750, 9.4, { b: 1 });
groupLegend(548.6, 768, 564, 601.6);
txt('Relative Intensity (Total)', 459.9, 862.3, 7.9, { rot: -90, c: '#333' });
txt('I', 758.8, 741.3, 32, { b: 1, c: '#000' });
txt('Phosphorylation Level (Thr286/Thr287)', 885.2, 752.3, 9.4, { b: 1 });
groupLegend(848.7, 770.3, 864.5, 902.6);
txt('Relative Intensity (Phospho)', 760.8, 862.7, 7.9, { rot: -90, c: '#333' });
txt('N.D.', 808.5, 932.7, 5.2, { i: 1, c: '#555' });
txt('***', 972.3, 801, 9, { b: 1 });

const ring = document.createElementNS('http://www.w3.org/2000/svg', 'svg');
ring.setAttribute('width', 1080); ring.setAttribute('height', 987);
ring.style.cssText = 'position:absolute;left:0;top:0';
ring.innerHTML = '<ellipse cx="949" cy="961.3" rx="27" ry="9" transform="rotate(-45 949 961.3)" fill="none" stroke="#E8101C" stroke-width="1.2" stroke-dasharray="2.6 1.4"/>';
page.appendChild(ring);
</script>
</body>
</html>
